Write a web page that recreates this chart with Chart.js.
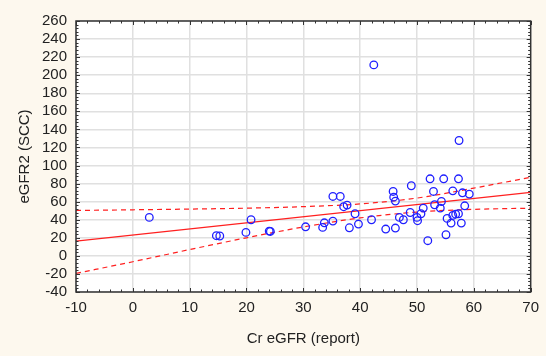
<!DOCTYPE html>
<html>
<head>
<meta charset="utf-8">
<script src="https://cdn.jsdelivr.net/npm/chart.js@4.4.1/dist/chart.umd.min.js"></script>
<style>
html, body { margin: 0; padding: 0; background: #fdf8ee; }
</style>
</head>
<body>
<canvas id="scatterChart" width="546" height="356"></canvas>
<script>
// valores
const crEgfr = [2.9, 14.7, 15.3, 19.9, 20.8, 24.0, 24.2, 30.4, 33.4, 33.7,
    35.2, 35.2, 36.5, 37.1, 37.7, 38.1, 39.1, 39.7, 42.0, 42.4,
    44.5, 45.8, 45.9, 46.2, 46.2, 46.9, 47.6, 48.8, 49.0, 50.0,
    50.1, 50.7, 51.1, 51.9, 52.3, 52.9, 53.1, 54.1, 54.3, 54.7,
    55.1, 55.3, 56.0, 56.3, 56.3, 56.8, 57.3, 57.3, 57.4, 57.8,
    58.0, 58.4, 59.2];
const egfr2 = [42.6, 22.3, 22.0, 26.0, 40.0, 27.4, 27.0, 32.2, 31.5, 36.6,
    65.8, 38.5, 65.8, 54.4, 56.2, 31.1, 46.6, 35.2, 40.0, 211.4,
    29.7, 71.3, 65.0, 60.6, 30.8, 42.6, 40.0, 48.0, 77.6, 42.6,
    38.9, 46.6, 52.9, 16.8, 85.3, 71.3, 56.6, 52.9, 60.2, 85.3,
    23.4, 41.5, 36.3, 72.0, 44.8, 46.2, 85.3, 46.6, 127.7, 36.3,
    69.8, 55.4, 68.4];

// reta de regressão e faixas de confiança
const fitX = [-10, 70];
const fitY = [16.4, 70.2];
const bandX = [-10, 0, 10, 20, 30, 40, 50, 60, 70];
const upperBand = [50.3, 51.0, 51.8, 52.8, 54.5, 57.5, 64.0, 75.0, 87.0];
const lowerBand = [-19.4, -6.5, 7.0, 20.0, 32.0, 42.0, 48.5, 51.5, 52.8];

const xTicks = [-10, 0, 10, 20, 30, 40, 50, 60, 70];
const yTicks = [-40, -20, 0, 20, 40, 60, 80, 100, 120, 140, 160, 180, 200, 220, 240, 260];

const toPoints = (xs, ys) => xs.map((x, i) => ({ x: x, y: ys[i] }));
const fontFamily = '"Liberation Sans", Arial, sans-serif';

// fundo branco da área do gráfico, moldura e marcas menores
const framePlugin = {
    id: 'frame',
    beforeDraw(chart) {
        const a = chart.chartArea;
        const ctx = chart.ctx;
        ctx.save();
        ctx.fillStyle = '#ffffff';
        ctx.fillRect(a.left, a.top, a.right - a.left, a.bottom - a.top);
        ctx.restore();
    },
    afterDraw(chart) {
        const a = chart.chartArea;
        const ctx = chart.ctx;
        const xs = chart.scales.x;
        const ys = chart.scales.y;
        ctx.save();
        ctx.strokeStyle = '#333333';
        ctx.lineWidth = 1;
        ctx.beginPath();
        for (let v = -10; v <= 70; v += 2) {
            const px = Math.round(xs.getPixelForValue(v)) + 0.5;
            const len = v % 10 === 0 ? 4 : 2.5;
            ctx.moveTo(px, a.bottom); ctx.lineTo(px, a.bottom - len);
            ctx.moveTo(px, a.top); ctx.lineTo(px, a.top + len);
        }
        for (let v = -40; v <= 260; v += 4) {
            const py = Math.round(ys.getPixelForValue(v)) + 0.5;
            const len = v % 20 === 0 ? 4 : 2.5;
            ctx.moveTo(a.left, py); ctx.lineTo(a.left + len, py);
            ctx.moveTo(a.right, py); ctx.lineTo(a.right - len, py);
        }
        ctx.stroke();
        ctx.lineWidth = 1.5;
        ctx.strokeRect(a.left, a.top, a.right - a.left, a.bottom - a.top);
        ctx.restore();
    }
};

const ctx = document.getElementById('scatterChart').getContext('2d');
new Chart(ctx, {
    type: 'scatter',
    data: {
        datasets: [{
            label: 'Pontos',
            data: toPoints(crEgfr, egfr2),
            borderColor: '#1f1fff',
            backgroundColor: 'rgba(0,0,0,0)',
            borderWidth: 1.3,
            pointRadius: 3.8,
            order: 1
        }, {
            label: 'Regressão',
            data: toPoints(fitX, fitY),
            showLine: true,
            borderColor: '#ff2020',
            borderWidth: 1.3,
            pointRadius: 0,
            order: 2
        }, {
            label: 'Superior',
            data: toPoints(bandX, upperBand),
            showLine: true,
            borderColor: '#ff2020',
            borderWidth: 1.2,
            borderDash: [5, 4],
            cubicInterpolationMode: 'monotone',
            pointRadius: 0,
            order: 2
        }, {
            label: 'Inferior',
            data: toPoints(bandX, lowerBand),
            showLine: true,
            borderColor: '#ff2020',
            borderWidth: 1.2,
            borderDash: [5, 4],
            cubicInterpolationMode: 'monotone',
            pointRadius: 0,
            order: 2
        }]
    },
    options: {
        responsive: false,
        animation: false,
        devicePixelRatio: 1,
        layout: { padding: { top: 21, right: 14, left: 0, bottom: 0 } },
        plugins: {
            legend: { display: false },
            tooltip: { enabled: false }
        },
        scales: {
            x: {
                type: 'linear',
                min: -10,
                max: 70,
                afterBuildTicks: (scale) => { scale.ticks = xTicks.map(v => ({ value: v })); },
                afterFit: (scale) => { scale.height = 64; },
                ticks: { color: '#222', padding: 7, autoSkip: false, maxRotation: 0, font: { family: fontFamily, size: 15 } },
                grid: { color: '#e0e0e0', lineWidth: 1.5, drawTicks: false },
                border: { display: false },
                title: {
                    display: true,
                    text: 'Cr eGFR (report)',
                    color: '#222',
                    font: { family: fontFamily, size: 15 },
                    padding: { top: 0, bottom: 8 }
                }
            },
            y: {
                type: 'linear',
                min: -40,
                max: 260,
                afterBuildTicks: (scale) => { scale.ticks = yTicks.map(v => ({ value: v })); },
                afterFit: (scale) => { scale.width = 76; },
                ticks: { color: '#222', padding: 9, autoSkip: false, font: { family: fontFamily, size: 15 } },
                grid: { color: '#e0e0e0', lineWidth: 1.5, drawTicks: false },
                border: { display: false },
                title: {
                    display: true,
                    text: 'eGFR2 (SCC)',
                    color: '#222',
                    font: { family: fontFamily, size: 15 },
                    padding: { top: 16, bottom: 0 }
                }
            }
        }
    },
    plugins: [framePlugin]
});
</script>
</body>
</html>
